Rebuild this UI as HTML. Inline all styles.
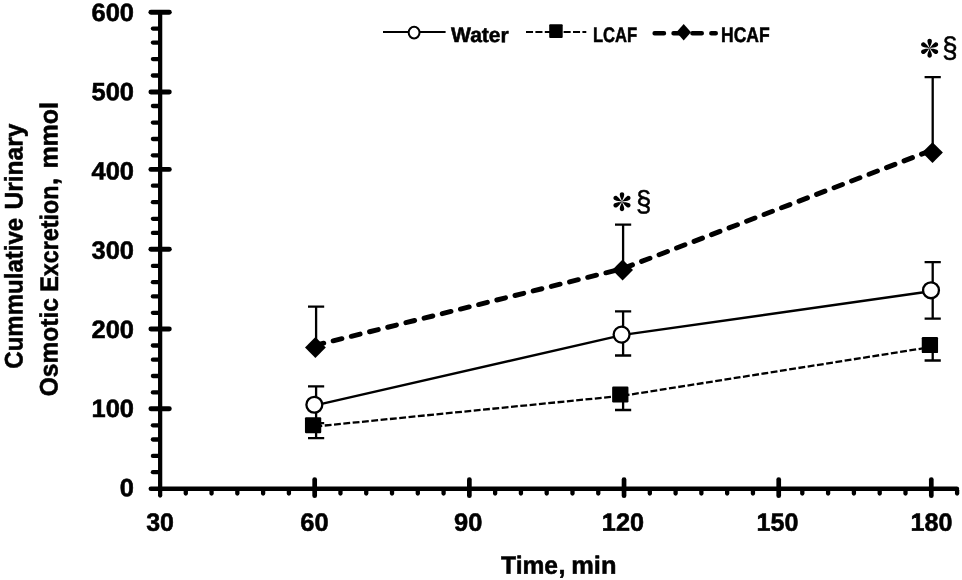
<!DOCTYPE html>
<html><head><meta charset="utf-8"><title>Chart</title>
<style>
html,body{margin:0;padding:0;background:#fff;}
body{width:962px;height:580px;overflow:hidden;}
svg{display:block;}
text{font-family:"Liberation Sans",sans-serif;fill:#000;}
.b{font-weight:bold;stroke:#000;stroke-width:0.55;stroke-linejoin:round;}
</style></head><body>
<svg width="962" height="580" viewBox="0 0 962 580" style="will-change:transform">
<rect width="962" height="580" fill="#fff"/>
<g stroke="#000" stroke-linecap="round" fill="none">
<line x1="160.15" y1="12.25" x2="160.15" y2="495.6" stroke-width="4.25"/>
<line x1="150.8" y1="488.7" x2="956.9" y2="488.7" stroke-width="4.5"/>
<line x1="150.9" y1="12.25" x2="169.3" y2="12.25" stroke-width="4.9"/>
<line x1="152.9" y1="28.6" x2="158.6" y2="28.6" stroke-width="4.3"/>
<line x1="152.9" y1="42.6" x2="158.6" y2="42.6" stroke-width="4.3"/>
<line x1="152.9" y1="59.1" x2="158.6" y2="59.1" stroke-width="4.3"/>
<line x1="152.9" y1="75.5" x2="158.6" y2="75.5" stroke-width="4.3"/>
<line x1="150.9" y1="92.0" x2="169.3" y2="92.0" stroke-width="4.9"/>
<line x1="152.9" y1="106.0" x2="158.6" y2="106.0" stroke-width="4.3"/>
<line x1="152.9" y1="122.6" x2="158.6" y2="122.6" stroke-width="4.3"/>
<line x1="152.9" y1="139.0" x2="158.6" y2="139.0" stroke-width="4.3"/>
<line x1="152.9" y1="155.3" x2="158.6" y2="155.3" stroke-width="4.3"/>
<line x1="150.9" y1="169.4" x2="169.3" y2="169.4" stroke-width="4.9"/>
<line x1="152.9" y1="185.7" x2="158.6" y2="185.7" stroke-width="4.3"/>
<line x1="152.9" y1="202.2" x2="158.6" y2="202.2" stroke-width="4.3"/>
<line x1="152.9" y1="218.8" x2="158.6" y2="218.8" stroke-width="4.3"/>
<line x1="152.9" y1="232.9" x2="158.6" y2="232.9" stroke-width="4.3"/>
<line x1="150.9" y1="249.2" x2="169.3" y2="249.2" stroke-width="4.9"/>
<line x1="152.9" y1="265.9" x2="158.6" y2="265.9" stroke-width="4.3"/>
<line x1="152.9" y1="282.2" x2="158.6" y2="282.2" stroke-width="4.3"/>
<line x1="152.9" y1="296.4" x2="158.6" y2="296.4" stroke-width="4.3"/>
<line x1="152.9" y1="312.8" x2="158.6" y2="312.8" stroke-width="4.3"/>
<line x1="150.9" y1="329.05" x2="169.3" y2="329.05" stroke-width="4.9"/>
<line x1="152.9" y1="345.5" x2="158.6" y2="345.5" stroke-width="4.3"/>
<line x1="152.9" y1="359.7" x2="158.6" y2="359.7" stroke-width="4.3"/>
<line x1="152.9" y1="376.0" x2="158.6" y2="376.0" stroke-width="4.3"/>
<line x1="152.9" y1="392.4" x2="158.6" y2="392.4" stroke-width="4.3"/>
<line x1="150.9" y1="408.8" x2="169.3" y2="408.8" stroke-width="4.9"/>
<line x1="152.9" y1="425.3" x2="158.6" y2="425.3" stroke-width="4.3"/>
<line x1="152.9" y1="439.5" x2="158.6" y2="439.5" stroke-width="4.3"/>
<line x1="152.9" y1="455.9" x2="158.6" y2="455.9" stroke-width="4.3"/>
<line x1="152.9" y1="472.2" x2="158.6" y2="472.2" stroke-width="4.3"/>
<line x1="185.78" y1="490.2" x2="185.78" y2="493.6" stroke-width="4.3"/>
<line x1="211.56" y1="490.2" x2="211.56" y2="493.6" stroke-width="4.3"/>
<line x1="237.34" y1="490.2" x2="237.34" y2="493.6" stroke-width="4.3"/>
<line x1="263.12" y1="490.2" x2="263.12" y2="493.6" stroke-width="4.3"/>
<line x1="288.90" y1="490.2" x2="288.90" y2="493.6" stroke-width="4.3"/>
<line x1="314.68" y1="479.5" x2="314.68" y2="495.7" stroke-width="4.7"/>
<line x1="340.46" y1="490.2" x2="340.46" y2="493.6" stroke-width="4.3"/>
<line x1="366.24" y1="490.2" x2="366.24" y2="493.6" stroke-width="4.3"/>
<line x1="392.02" y1="490.2" x2="392.02" y2="493.6" stroke-width="4.3"/>
<line x1="417.80" y1="490.2" x2="417.80" y2="493.6" stroke-width="4.3"/>
<line x1="443.58" y1="490.2" x2="443.58" y2="493.6" stroke-width="4.3"/>
<line x1="469.36" y1="479.5" x2="469.36" y2="495.7" stroke-width="4.7"/>
<line x1="495.14" y1="490.2" x2="495.14" y2="493.6" stroke-width="4.3"/>
<line x1="520.92" y1="490.2" x2="520.92" y2="493.6" stroke-width="4.3"/>
<line x1="546.70" y1="490.2" x2="546.70" y2="493.6" stroke-width="4.3"/>
<line x1="572.48" y1="490.2" x2="572.48" y2="493.6" stroke-width="4.3"/>
<line x1="598.26" y1="490.2" x2="598.26" y2="493.6" stroke-width="4.3"/>
<line x1="624.04" y1="479.5" x2="624.04" y2="495.7" stroke-width="4.7"/>
<line x1="649.82" y1="490.2" x2="649.82" y2="493.6" stroke-width="4.3"/>
<line x1="675.60" y1="490.2" x2="675.60" y2="493.6" stroke-width="4.3"/>
<line x1="701.38" y1="490.2" x2="701.38" y2="493.6" stroke-width="4.3"/>
<line x1="727.16" y1="490.2" x2="727.16" y2="493.6" stroke-width="4.3"/>
<line x1="752.94" y1="490.2" x2="752.94" y2="493.6" stroke-width="4.3"/>
<line x1="778.72" y1="479.5" x2="778.72" y2="495.7" stroke-width="4.7"/>
<line x1="802.30" y1="490.2" x2="802.30" y2="493.6" stroke-width="4.3"/>
<line x1="828.10" y1="490.2" x2="828.10" y2="493.6" stroke-width="4.3"/>
<line x1="853.90" y1="490.2" x2="853.90" y2="493.6" stroke-width="4.3"/>
<line x1="879.70" y1="490.2" x2="879.70" y2="493.6" stroke-width="4.3"/>
<line x1="905.50" y1="490.2" x2="905.50" y2="493.6" stroke-width="4.3"/>
<line x1="931.30" y1="479.5" x2="931.30" y2="495.7" stroke-width="4.7"/>
<line x1="957.10" y1="490.2" x2="957.10" y2="493.6" stroke-width="4.3"/>
</g>
<text class="b" transform="translate(91.49 21.10) rotate(0.03)" font-size="25.0" textLength="42.48" lengthAdjust="spacingAndGlyphs">600</text>
<text class="b" transform="translate(91.49 100.30) rotate(0.03)" font-size="25.0" textLength="42.48" lengthAdjust="spacingAndGlyphs">500</text>
<text class="b" transform="translate(91.49 179.50) rotate(0.03)" font-size="25.0" textLength="42.48" lengthAdjust="spacingAndGlyphs">400</text>
<text class="b" transform="translate(91.49 258.70) rotate(0.03)" font-size="25.0" textLength="42.48" lengthAdjust="spacingAndGlyphs">300</text>
<text class="b" transform="translate(91.49 337.90) rotate(0.03)" font-size="25.0" textLength="42.48" lengthAdjust="spacingAndGlyphs">200</text>
<text class="b" transform="translate(91.49 417.10) rotate(0.03)" font-size="25.0" textLength="42.48" lengthAdjust="spacingAndGlyphs">100</text>
<text class="b" transform="translate(119.81 496.30) rotate(0.03)" font-size="25.0" textLength="14.16" lengthAdjust="spacingAndGlyphs">0</text>
<text class="b" transform="translate(146.21 530.8) rotate(0.03)" font-size="25.0" textLength="27.77" lengthAdjust="spacingAndGlyphs">30</text>
<text class="b" transform="translate(300.37 530.8) rotate(0.03)" font-size="25.0" textLength="28.33" lengthAdjust="spacingAndGlyphs">60</text>
<text class="b" transform="translate(454.03 530.8) rotate(0.03)" font-size="25.0" textLength="28.32" lengthAdjust="spacingAndGlyphs">90</text>
<text class="b" transform="translate(601.85 530.8) rotate(0.03)" font-size="25.0" textLength="42.11" lengthAdjust="spacingAndGlyphs">120</text>
<text class="b" transform="translate(756.55 530.8) rotate(0.03)" font-size="25.0" textLength="41.95" lengthAdjust="spacingAndGlyphs">150</text>
<text class="b" transform="translate(910.55 530.8) rotate(0.03)" font-size="25.0" textLength="41.95" lengthAdjust="spacingAndGlyphs">180</text>
<text class="b" transform="translate(501.08 573.75) rotate(0.03)" font-size="25.0" textLength="56.92" lengthAdjust="spacingAndGlyphs">Time</text>
<text class="b" transform="translate(571.27 573.75) rotate(0.03)" font-size="25.0" textLength="45.13" lengthAdjust="spacingAndGlyphs">min</text>
<text class="b" transform="translate(558.6 573.75) rotate(0.03)" font-size="25.0">,</text>
<text class="b" transform="translate(22.4 368.64) rotate(-89.97)" font-size="25.4" textLength="150.74" lengthAdjust="spacingAndGlyphs">Cummulative</text>
<text class="b" transform="translate(22.4 209.55) rotate(-89.97)" font-size="25.4" textLength="85.99" lengthAdjust="spacingAndGlyphs">Urinary</text>
<text class="b" transform="translate(57.6 396.26) rotate(-89.97)" font-size="25.4" textLength="98.13" lengthAdjust="spacingAndGlyphs">Osmotic</text>
<text class="b" transform="translate(57.6 291.85) rotate(-89.97)" font-size="25.4" textLength="106.42" lengthAdjust="spacingAndGlyphs">Excretion</text>
<text class="b" transform="translate(57.6 185.0) rotate(-89.97)" font-size="25.4">,</text>
<text class="b" transform="translate(57.6 168.60) rotate(-89.97)" font-size="25.4" textLength="66.51" lengthAdjust="spacingAndGlyphs">mmol</text>
<g stroke="#000" stroke-width="2.3" fill="none">
<path d="M316.1 405.1V386.3M308.0 386.3H324.20000000000005M316.1 405.1V423.2M308.0 423.2H324.20000000000005"/>
<path d="M623.1 334.9V311.4M615.0 311.4H631.2M623.1 334.9V355.5M615.0 355.5H631.2"/>
<path d="M932.7 291.0V262.1M924.6 262.1H940.8000000000001M932.7 291.0V318.6M924.6 318.6H940.8000000000001"/>
<path d="M316.1 426.35V438.2M308.0 438.2H324.20000000000005"/>
<path d="M623.1 395.7V410.0M615.0 410.0H631.2"/>
<path d="M932.7 346.8V360.5M924.6 360.5H940.8000000000001"/>
<path d="M316.1 345.1V306.7M308.0 306.7H324.20000000000005"/>
<path d="M623.1 268.5V224.6M615.0 224.6H631.2"/>
<path d="M932.7 149.9V77.1M924.6 77.1H940.8000000000001"/>
</g>
<polyline points="316.1,345.1 623.1,268.5 932.7,149.9" fill="none" stroke="#000" stroke-width="4.95" stroke-linecap="round" stroke-linejoin="round" stroke-dasharray="9.0 9.74" stroke-dashoffset="1.15"/>
<polyline points="316.1,405.1 623.1,334.9 932.7,291.0" fill="none" stroke="#000" stroke-width="2.45"/>
<polyline points="316.1,426.35 623.1,395.7 932.7,346.8" fill="none" stroke="#000" stroke-width="2.3" stroke-dasharray="6.85 2.51" stroke-dashoffset="0.7"/>
<path d="M305.00 347.5L315.4 337.10L325.80 347.5L315.4 357.90Z" fill="#000"/>
<path d="M612.20 270.0L622.6 259.60L633.00 270.0L622.6 280.40Z" fill="#000"/>
<path d="M922.10 152.6L932.5 142.20L942.90 152.6L932.5 163.00Z" fill="#000"/>
<circle cx="314.35" cy="404.75" r="7.95" fill="#fff" stroke="#000" stroke-width="2.3"/>
<circle cx="621.6" cy="334.6" r="7.95" fill="#fff" stroke="#000" stroke-width="2.3"/>
<circle cx="931.0" cy="290.3" r="7.95" fill="#fff" stroke="#000" stroke-width="2.3"/>
<rect x="304.95" y="417.20" width="16.3" height="16" rx="1.2" fill="#000"/>
<rect x="612.15" y="386.45" width="16.3" height="16" rx="1.2" fill="#000"/>
<rect x="921.75" y="337.10" width="16.3" height="16" rx="1.2" fill="#000"/>
<line x1="383" y1="32" x2="445.6" y2="32" stroke="#000" stroke-width="1.9"/>
<ellipse cx="414.1" cy="32.6" rx="5.45" ry="5.8" fill="#fff" stroke="#000" stroke-width="2"/>
<text class="b" transform="translate(451.07 42.1) rotate(0.03)" font-size="21.0" textLength="57.69" lengthAdjust="spacingAndGlyphs">Water</text>
<line x1="526" y1="32" x2="586.3" y2="32" stroke="#000" stroke-width="1.9" stroke-dasharray="7.05 2.35"/>
<rect x="549.2" y="24.2" width="13.5" height="13.8" rx="1" fill="#000"/>
<text class="b" transform="translate(592.90 42.1) rotate(0.03)" font-size="21.0" textLength="44.27" lengthAdjust="spacingAndGlyphs">LCAF</text>
<line x1="654.6" y1="33.2" x2="715.8" y2="33.2" stroke="#000" stroke-width="4.4" stroke-linecap="round" stroke-dasharray="9.4 9.5"/>
<path d="M676.4 32.2L683.7 24L691 32.2L683.7 40.5Z" fill="#000"/>
<text class="b" transform="translate(721.04 42.1) rotate(0.03)" font-size="21.0" textLength="48.64" lengthAdjust="spacingAndGlyphs">HCAF</text>
<g transform="translate(622.0 201.7)" fill="#000"><path transform="rotate(30)" d="M0 0C2.6 -0.6 4.6 -2.25 7.1 -2.25C10.35 -2.25 10.35 2.25 7.1 2.25C4.6 2.25 2.6 0.6 0 0Z"/><path transform="rotate(90)" d="M0 0C2.6 -0.6 4.6 -2.25 7.1 -2.25C10.35 -2.25 10.35 2.25 7.1 2.25C4.6 2.25 2.6 0.6 0 0Z"/><path transform="rotate(150)" d="M0 0C2.6 -0.6 4.6 -2.25 7.1 -2.25C10.35 -2.25 10.35 2.25 7.1 2.25C4.6 2.25 2.6 0.6 0 0Z"/><path transform="rotate(210)" d="M0 0C2.6 -0.6 4.6 -2.25 7.1 -2.25C10.35 -2.25 10.35 2.25 7.1 2.25C4.6 2.25 2.6 0.6 0 0Z"/><path transform="rotate(270)" d="M0 0C2.6 -0.6 4.6 -2.25 7.1 -2.25C10.35 -2.25 10.35 2.25 7.1 2.25C4.6 2.25 2.6 0.6 0 0Z"/><path transform="rotate(330)" d="M0 0C2.6 -0.6 4.6 -2.25 7.1 -2.25C10.35 -2.25 10.35 2.25 7.1 2.25C4.6 2.25 2.6 0.6 0 0Z"/></g>
<g transform="translate(929.65 48.2)" fill="#000"><path transform="rotate(30)" d="M0 0C2.6 -0.6 4.6 -2.25 7.1 -2.25C10.35 -2.25 10.35 2.25 7.1 2.25C4.6 2.25 2.6 0.6 0 0Z"/><path transform="rotate(90)" d="M0 0C2.6 -0.6 4.6 -2.25 7.1 -2.25C10.35 -2.25 10.35 2.25 7.1 2.25C4.6 2.25 2.6 0.6 0 0Z"/><path transform="rotate(150)" d="M0 0C2.6 -0.6 4.6 -2.25 7.1 -2.25C10.35 -2.25 10.35 2.25 7.1 2.25C4.6 2.25 2.6 0.6 0 0Z"/><path transform="rotate(210)" d="M0 0C2.6 -0.6 4.6 -2.25 7.1 -2.25C10.35 -2.25 10.35 2.25 7.1 2.25C4.6 2.25 2.6 0.6 0 0Z"/><path transform="rotate(270)" d="M0 0C2.6 -0.6 4.6 -2.25 7.1 -2.25C10.35 -2.25 10.35 2.25 7.1 2.25C4.6 2.25 2.6 0.6 0 0Z"/><path transform="rotate(330)" d="M0 0C2.6 -0.6 4.6 -2.25 7.1 -2.25C10.35 -2.25 10.35 2.25 7.1 2.25C4.6 2.25 2.6 0.6 0 0Z"/></g>
<text transform="translate(635.95 211.35) rotate(0.03) scale(0.94 1)" font-size="29.35" stroke="#000" stroke-width="0.5">§</text>
<text transform="translate(942.35 57.5) rotate(0.03) scale(0.94 1)" font-size="29.35" stroke="#000" stroke-width="0.5">§</text>
</svg>
</body></html>
